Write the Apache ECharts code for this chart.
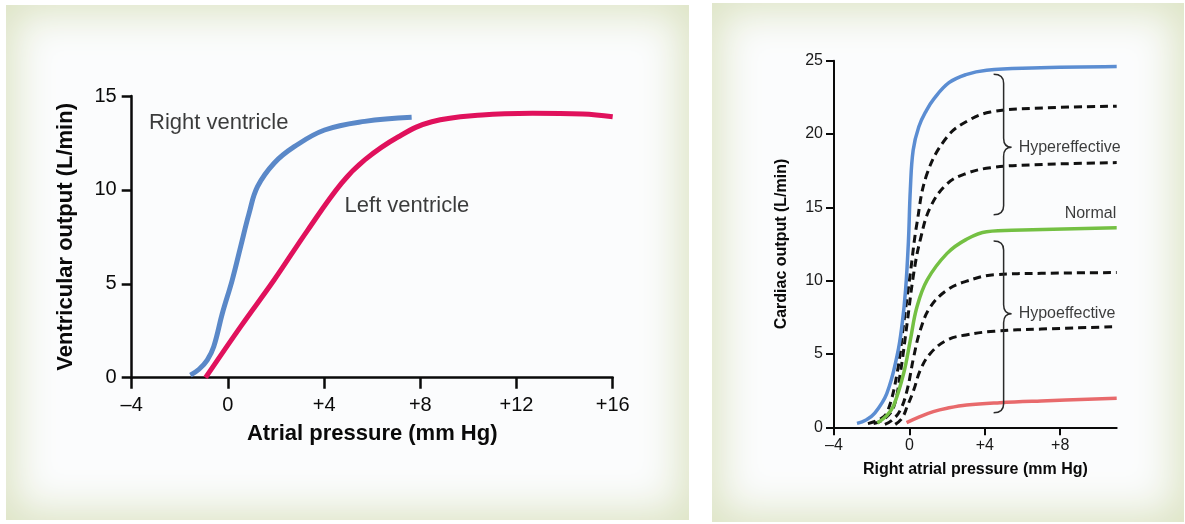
<!DOCTYPE html>
<html>
<head>
<meta charset="utf-8">
<script src="https://cdn.jsdelivr.net/npm/echarts@6/dist/echarts.min.js"></script>
<style>
  html, body { margin: 0; padding: 0; background: #ffffff; }
  #wrap { position: relative; width: 1185px; height: 524px; overflow: hidden; }
  .frame { position: absolute; background: #fbfcfd; box-shadow: inset 0 0 40px 9px #dce3c3; }
  #f1 { left: 6px; top: 5px; width: 683px; height: 515px; }
  #f2 { left: 712px; top: 3px; width: 472px; height: 519px; }
  #chart { position: absolute; left: 0; top: 0; width: 1185px; height: 524px; }
</style>
</head>
<body>
<div id="wrap">
  <div class="frame" id="f1"></div>
  <div class="frame" id="f2"></div>
  <div id="chart"></div>
</div>
<script>
// ---------- Left panel data ----------
const leftXTicks = [-4, 0, 4, 8, 12, 16];
const leftXTickLabels = ['–4', '0', '+4', '+8', '+12', '+16'];
const rightVentricle = [
  [-1.56, 0.14], [-1.2, 0.45], [-0.86, 0.94], [-0.59, 1.65], [-0.23, 3.43],
  [0.18, 5.2], [0.53, 6.98], [0.88, 8.75], [1.23, 10.17], [1.92, 11.42],
  [2.76, 12.3], [4.02, 13.19], [5.69, 13.65], [7.64, 13.87]
];
const leftVentricle = [
  [-0.93, 0.0], [0.53, 2.72], [1.92, 5.2], [3.32, 7.86], [4.72, 10.35],
  [5.69, 11.6], [7.09, 12.83], [8.48, 13.63], [10.57, 13.99], [12.66, 14.08],
  [14.75, 14.04], [16.0, 13.9]
];
const leftLabels = [
  [-3.3, 13.55, 'Right ventricle'],
  [4.83, 9.12, 'Left ventricle']
];

// ---------- Right panel data ----------
const rightXTicks = [-4, 0, 4, 8];
const rightXTickLabels = ['–4', '0', '+4', '+8'];
const hyperMax = [
  [-2.78, 0.27], [-2.3, 0.5], [-1.85, 0.95], [-1.2, 2.3], [-0.65, 4.9],
  [-0.38, 7.1], [-0.2, 9.4], [-0.05, 12.7], [0.05, 16.2], [0.2, 18.9],
  [0.5, 20.5], [0.9, 21.6], [1.3, 22.4], [2.1, 23.5], [3.0, 24.05],
  [4.1, 24.35], [6.5, 24.5], [11, 24.6]
];
const hyper1 = [
  [-2.2, 0.25], [-1.5, 0.6], [-1.15, 1.1], [-0.65, 3.7], [-0.3, 7.1],
  [0.05, 10.5], [0.4, 13.9], [0.94, 17.3], [2.0, 19.8], [3.1, 20.9],
  [4.3, 21.5], [6.5, 21.75], [11, 21.9]
];
const hyper2 = [
  [-1.9, 0.25], [-1.3, 0.6], [-0.83, 1.4], [-0.48, 3.7], [-0.12, 7.1],
  [0.23, 10.5], [0.58, 12.8], [1.11, 15.0], [2.0, 16.6], [3.0, 17.3],
  [4.3, 17.7], [6.5, 17.9], [11, 18.05]
];
const normal = [
  [-1.7, 0.3], [-1.2, 0.8], [-0.83, 1.5], [-0.3, 3.7], [0.05, 5.95],
  [0.4, 8.2], [0.94, 10.04], [2.0, 11.86], [3.0, 12.8], [4.1, 13.34],
  [6.0, 13.45], [11, 13.6]
];
const hypo1 = [
  [-1.3, 0.2], [-0.9, 0.5], [-0.48, 1.18], [-0.12, 2.54], [0.23, 4.8],
  [0.58, 6.63], [1.11, 8.2], [2.0, 9.36], [3.0, 9.95], [4.5, 10.4],
  [7.0, 10.5], [11, 10.55]
];
const hypo2 = [
  [-0.75, 0.2], [-0.4, 0.6], [-0.12, 1.4], [0.23, 2.54], [0.58, 3.9],
  [1.11, 5.04], [2.0, 5.95], [3.0, 6.3], [4.5, 6.55], [7.0, 6.7], [11, 6.86]
];
const hypoMin = [
  [-0.15, 0.32], [0.5, 0.7], [1.27, 1.07], [2.0, 1.3], [3.04, 1.52],
  [4.8, 1.68], [7.0, 1.8], [11, 1.98]
];
// braces: [x, yTop, yBottom, yTip]
const braces = [
  [5.0, 24.08, 14.5, 19.1],
  [5.0, 12.7, 1.0, 7.75]
];
const rightLabels = [
  [5.77, 19.1, 'Hypereffective', 'right'],
  [5.77, 7.75, 'Hypoeffective', 'right'],
  [11.0, 14.55, 'Normal', 'left']
];

const FONT = '"Liberation Sans", Arial, Helvetica, sans-serif';
const INK = '#0a0a0a';

function lookup(vals, labels) {
  return function (v) {
    const i = vals.findIndex(t => Math.abs(t - v) < 1e-6);
    return i >= 0 ? labels[i] : '';
  };
}

function curve(data, xi, color, width, dashed) {
  return {
    type: 'line', xAxisIndex: xi, yAxisIndex: xi, data: data,
    showSymbol: false, symbol: 'none', smooth: 0.4,
    silent: true, animation: false,
    lineStyle: { color: color, width: width, type: dashed ? [8, 5] : 'solid', cap: 'butt', join: 'round' },
    z: dashed ? 3 : 4
  };
}

function labelSeries(data, xi, size) {
  return {
    type: 'scatter', xAxisIndex: xi, yAxisIndex: xi, silent: true, animation: false,
    symbolSize: 1, itemStyle: { color: 'rgba(0,0,0,0)' },
    data: data.map(d => ({ value: [d[0], d[1]], name: d[2],
      label: { position: d[3] || 'right' } })),
    label: {
      show: true, distance: 0, formatter: p => p.name,
      fontSize: size, color: INK, fontFamily: FONT
    },
    z: 6
  };
}

const chart = echarts.init(document.getElementById('chart'), null, { renderer: 'canvas' });

const option = {
  animation: false,
  textStyle: { fontFamily: FONT },
  grid: [
    { left: 131.7, top: 96, width: 481, height: 281.7 },
    { left: 834, top: 60.7, width: 282.7, height: 366.6 }
  ],
  xAxis: [
    {
      type: 'value', gridIndex: 0, min: -4, max: 16, interval: 4,
      splitLine: { show: false },
      axisLine: { show: true, lineStyle: { color: INK, width: 2.5 } },
      axisTick: { show: true, length: 11, lineStyle: { color: INK, width: 2.5 } },
      axisLabel: { fontSize: 20, color: INK, margin: 18, formatter: lookup(leftXTicks, leftXTickLabels) },
      name: 'Atrial pressure (mm Hg)', nameLocation: 'middle', nameGap: 45,
      nameTextStyle: { fontSize: 22, fontWeight: 'bold', color: INK }
    },
    {
      type: 'value', gridIndex: 1, min: -4, max: 11,
      splitLine: { show: false },
      axisLine: { show: true, lineStyle: { color: INK, width: 2 } },
      axisTick: { show: true, length: 8, customValues: rightXTicks, lineStyle: { color: INK, width: 2 } },
      axisLabel: { fontSize: 16, color: '#1a1a1a', margin: 10, customValues: rightXTicks,
        formatter: lookup(rightXTicks, rightXTickLabels) },
      name: 'Right atrial pressure (mm Hg)', nameLocation: 'middle', nameGap: 34,
      nameTextStyle: { fontSize: 16, fontWeight: 'bold', color: INK }
    }
  ],
  yAxis: [
    {
      type: 'value', gridIndex: 0, min: 0, max: 15, interval: 5,
      splitLine: { show: false },
      axisLine: { show: true, onZero: false, lineStyle: { color: INK, width: 2.5 } },
      axisTick: { show: true, length: 10, lineStyle: { color: INK, width: 2.5 } },
      axisLabel: { fontSize: 20, color: INK, margin: 15 },
      name: 'Ventricular output (L/min)', nameLocation: 'middle', nameRotate: 90, nameGap: 55,
      nameTextStyle: { fontSize: 22, fontWeight: 'bold', color: INK }
    },
    {
      type: 'value', gridIndex: 1, min: 0, max: 25, interval: 5,
      splitLine: { show: false },
      axisLine: { show: true, onZero: false, lineStyle: { color: INK, width: 2 } },
      axisTick: { show: true, length: 8, lineStyle: { color: INK, width: 2 } },
      axisLabel: { fontSize: 16, color: '#1a1a1a', margin: 11 },
      name: 'Cardiac output (L/min)', nameLocation: 'middle', nameRotate: 90, nameGap: 44,
      nameTextStyle: { fontSize: 16, fontWeight: 'bold', color: INK }
    }
  ],
  series: [
    curve(rightVentricle, 0, '#5a88c8', 5, false),
    curve(leftVentricle, 0, '#e0115c', 5, false),
    labelSeries(leftLabels, 0, 22),

    curve(hyperMax, 1, '#5b8dd2', 3.5, false),
    curve(hyper1, 1, '#111111', 3, true),
    curve(hyper2, 1, '#111111', 3, true),
    curve(normal, 1, '#74c043', 3.5, false),
    curve(hypo1, 1, '#111111', 3, true),
    curve(hypo2, 1, '#111111', 3, true),
    curve(hypoMin, 1, '#e86a6c', 3.5, false),
    {
      type: 'custom', xAxisIndex: 1, yAxisIndex: 1, silent: true, animation: false,
      data: braces,
      renderItem: function (params, api) {
        const top = api.coord([api.value(0), api.value(1)]);
        const bot = api.coord([api.value(0), api.value(2)]);
        const mid = api.coord([api.value(0), api.value(3)]);
        const X = top[0], w = 10, r = 9, t = 8;
        const d = [
          'M', X - w, top[1],
          'Q', X, top[1], X, top[1] + r,
          'L', X, mid[1] - r,
          'Q', X, mid[1], X + t, mid[1],
          'Q', X, mid[1], X, mid[1] + r,
          'L', X, bot[1] - r,
          'Q', X, bot[1], X - w, bot[1]
        ].join(' ');
        return {
          type: 'path', shape: { pathData: d },
          style: { stroke: '#2a2a2a', lineWidth: 1.5, fill: 'none' }
        };
      },
      z: 5
    },
    labelSeries(rightLabels, 1, 16)
  ]
};

chart.setOption(option);
</script>
</body>
</html>
